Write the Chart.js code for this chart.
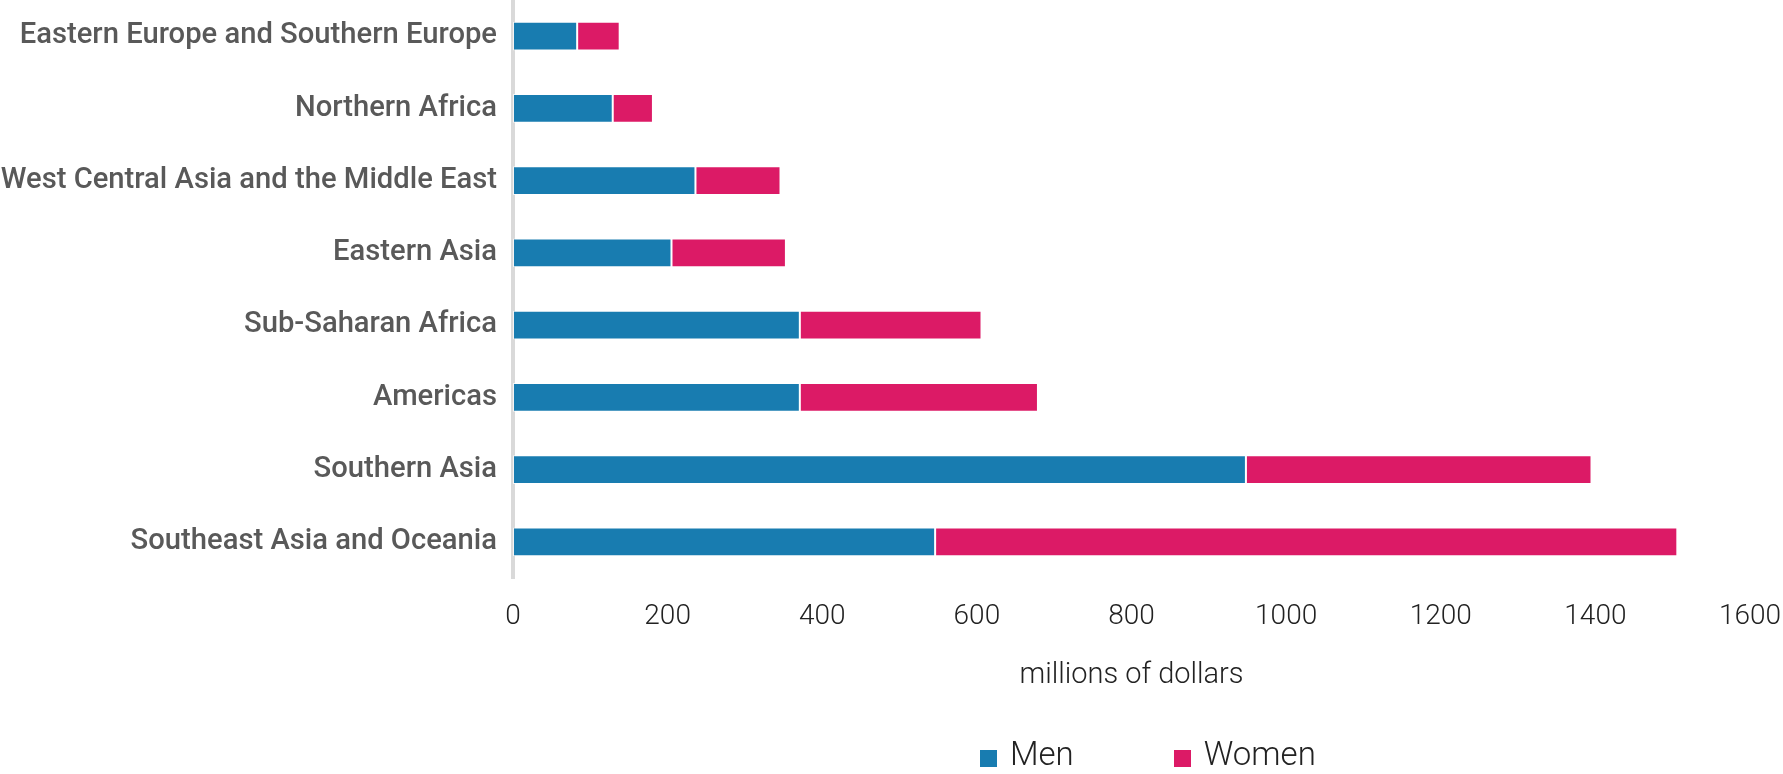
<!DOCTYPE html>
<html>
<head>
<meta charset="utf-8">
<script src="https://cdn.jsdelivr.net/npm/chart.js@4/dist/chart.umd.min.js"></script>
<style>
  html, body { margin: 0; padding: 0; background: #ffffff; }
  #wrap { position: relative; width: 1783px; height: 774px; }
  #legend { position: absolute; left: 980px; top: 735px; display: flex; align-items: center;
            font-family: Roboto, "Noto Sans", sans-serif; font-weight: 300; font-size: 33px; color: #222; line-height: 38px; }
  .item { display: flex; align-items: center; margin-right: 100px; }
  .item:last-child { margin-right: 0; }
  .box { width: 17px; height: 17px; margin-right: 13px; margin-top: 8px; }
</style>
</head>
<body>
<div id="wrap">
  <canvas id="c" width="1783" height="774"></canvas>
  <div id="legend"></div>
</div>
<script>
const categories = [
  'Eastern Europe and Southern Europe',
  'Northern Africa',
  'West Central Asia and the Middle East',
  'Eastern Asia',
  'Sub-Saharan Africa',
  'Americas',
  'Southern Asia',
  'Southeast Asia and Oceania'
];
const seriesNames = ['Men', 'Women'];
const menValues = [83, 129, 236, 205, 371, 371, 948, 546];
const womenValues = [55, 52, 110, 148, 235, 308, 447, 960];
const xMin = 0, xMax = 1600, xStep = 200;
const axisTitle = 'millions of dollars';
const colors = ['#187cb0', '#dc1a66'];

const chart = new Chart(document.getElementById('c'), {
  type: 'bar',
  data: {
    labels: categories,
    datasets: [
      { label: seriesNames[0], data: menValues, backgroundColor: colors[0],
        borderColor: 'rgba(255,255,255,0.7)', borderWidth: 1, borderSkipped: false,
        categoryPercentage: 0.8, barPercentage: 0.5 },
      { label: seriesNames[1], data: womenValues, backgroundColor: colors[1],
        borderColor: 'rgba(255,255,255,0.7)', borderWidth: 1, borderSkipped: false,
        categoryPercentage: 0.8, barPercentage: 0.5 }
    ]
  },
  options: {
    indexAxis: 'y',
    responsive: false,
    animation: false,
    devicePixelRatio: 1,
    layout: { padding: { left: 0, right: 33, top: 0, bottom: 0 } },
    plugins: { legend: { display: false }, tooltip: { enabled: false } },
    scales: {
      x: {
        stacked: true, min: xMin, max: xMax,
        grid: { display: false, drawTicks: false },
        border: { display: false },
        ticks: { stepSize: xStep, padding: 22, color: '#222',
                 callback: (v) => String(v),
                 font: { family: 'Roboto', size: 28, weight: 300 } },
        title: { display: true, text: axisTitle, color: '#222',
                 font: { family: 'Roboto', size: 29, weight: 300 },
                 padding: { top: 0, bottom: 81 } },
        afterFit: (s) => { s.height = 196; s.paddingLeft = 0; s.paddingRight = 0; }
      },
      y: {
        stacked: true,
        grid: { display: false, drawTicks: false },
        border: { display: true, color: '#d9d9d9', width: 4 },
        ticks: { padding: 16, color: '#595959',
                 font: { family: 'Roboto', size: 29.2, weight: 500 } },
        afterFit: (s) => { s.width = 513; s.paddingTop = 0; s.paddingBottom = 0; }
      }
    }
  }
});

const legendEl = document.getElementById('legend');
chart.data.datasets.forEach((ds) => {
  const item = document.createElement('div');
  item.className = 'item';
  const box = document.createElement('span');
  box.className = 'box';
  box.style.background = ds.backgroundColor;
  const txt = document.createElement('span');
  txt.textContent = ds.label;
  item.appendChild(box);
  item.appendChild(txt);
  legendEl.appendChild(item);
});
</script>
</body>
</html>
